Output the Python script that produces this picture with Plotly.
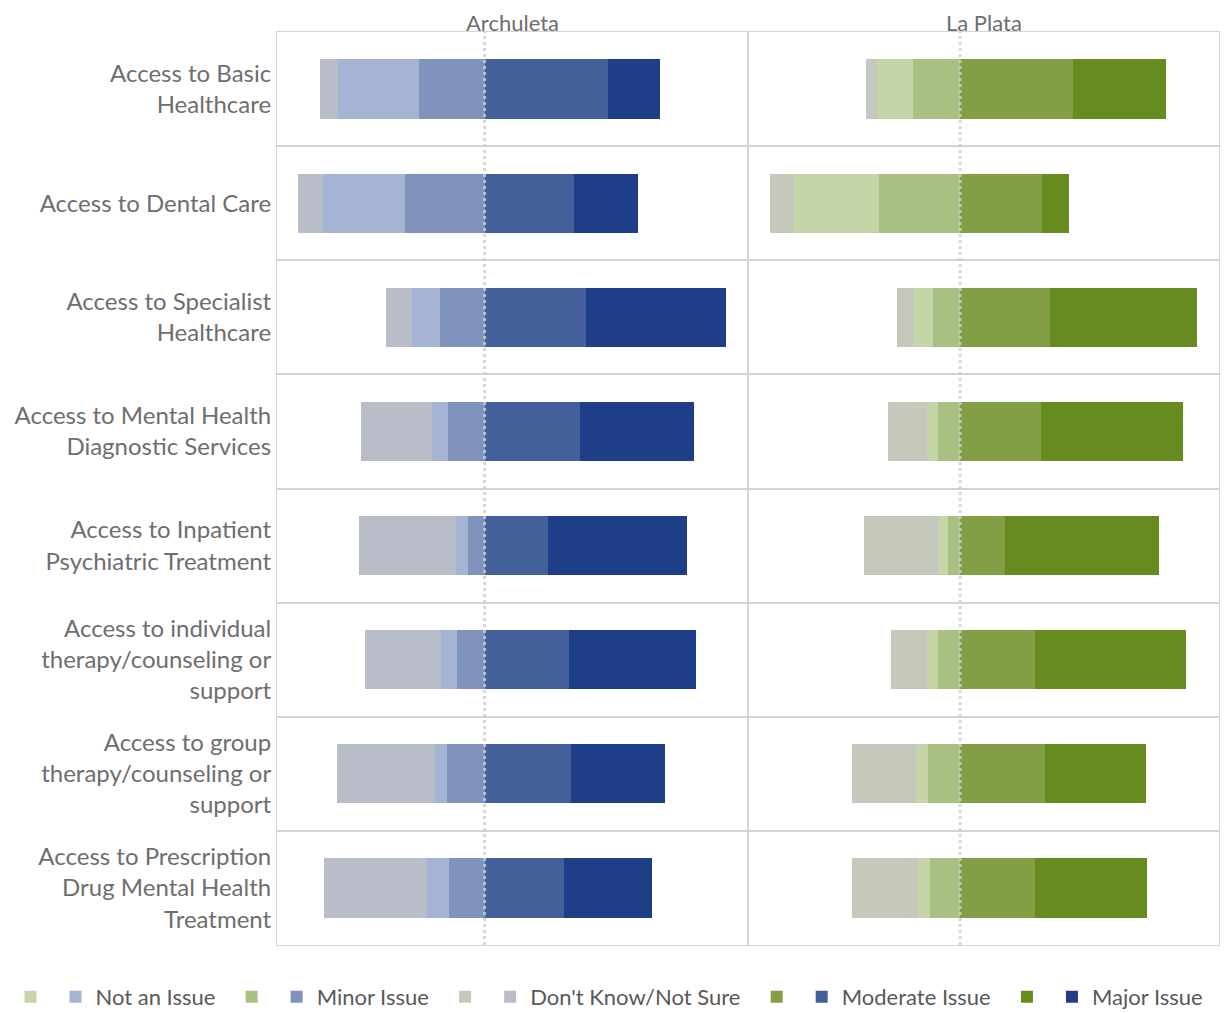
import plotly.graph_objects as go

categories = [
    "Access to Basic<br>Healthcare",
    "Access to Dental Care",
    "Access to Specialist<br>Healthcare",
    "Access to Mental Health<br>Diagnostic Services",
    "Access to Inpatient<br>Psychiatric Treatment",
    "Access to individual<br>therapy/counseling or<br>support",
    "Access to group<br>therapy/counseling or<br>support",
    "Access to Prescription<br>Drug Mental Health<br>Treatment",
]
panels = ["Archuleta", "La Plata"]
levels = ["Not an Issue", "Minor Issue", "Don't Know/Not Sure", "Moderate Issue", "Major Issue"]

# Archuleta percentages
arch_not = [23.8, 24.3, 8.2, 4.7, 3.5, 4.7, 3.5, 6.6]
arch_minor = [19.4, 23.3, 13.1, 10.8, 4.9, 8.0, 11.1, 10.4]
arch_dk = [5.1, 7.2, 7.8, 20.7, 28.5, 22.3, 28.8, 30.1]
arch_mod = [36.2, 26.3, 29.8, 27.9, 18.5, 24.7, 25.5, 23.2]
arch_major = [15.4, 18.7, 41.0, 33.5, 41.0, 37.4, 27.4, 26.1]

# La Plata percentages
lp_not = [12.0, 28.1, 6.4, 3.7, 2.7, 3.7, 4.0, 4.2]
lp_minor = [15.7, 27.2, 9.0, 7.3, 4.2, 7.3, 10.8, 9.9]
lp_dk = [3.6, 8.2, 5.6, 13.1, 25.2, 12.2, 21.3, 22.0]
lp_mod = [37.6, 27.3, 30.0, 26.9, 15.0, 25.1, 28.2, 25.1]
lp_major = [31.0, 9.1, 48.8, 47.4, 51.3, 50.1, 33.7, 37.2]

blue = {"Not an Issue": "#a5b4d3", "Minor Issue": "#7f93bd", "Don't Know/Not Sure": "#b9bdc7",
        "Moderate Issue": "#43609b", "Major Issue": "#1e3f87"}
green = {"Not an Issue": "#c6d5a8", "Minor Issue": "#a9c083", "Don't Know/Not Sure": "#c5c9bb",
         "Moderate Issue": "#829f45", "Major Issue": "#668b1e"}

FONT = "Lato"
TXT = "#6e6e6e"
ypos = list(range(len(categories)))

# page has an 8px body margin; figure fills the rest of the window
OFF = 8
W, H = 1228 - OFF, 1013 - OFF
def px(x):
    return (x - OFF) / W
def py(y):
    return 1 - (y - OFF) / H

fig = go.Figure()

def add_panel(data, colors, xa, ya, legend_named):
    order = [("Minor Issue", -1), ("Not an Issue", -1), ("Don't Know/Not Sure", -1),
             ("Moderate Issue", 1), ("Major Issue", 1)]
    for lvl, sign in order:
        vals = data[lvl]
        rank = levels.index(lvl) * 2 + (2 if legend_named else 1)
        fig.add_trace(go.Bar(
            x=[sign * v for v in vals], y=ypos, orientation="h",
            marker=dict(color=colors[lvl], line=dict(width=0)),
            width=0.52, xaxis=xa, yaxis=ya,
            name=(lvl + "\u00a0\u00a0") if legend_named else "",
            legendrank=rank, showlegend=True,
            hovertemplate=lvl + ": %{customdata}%<extra></extra>",
            customdata=vals,
        ))

add_panel({"Not an Issue": arch_not, "Minor Issue": arch_minor, "Don't Know/Not Sure": arch_dk,
           "Moderate Issue": arch_mod, "Major Issue": arch_major}, blue, "x", "y", True)
add_panel({"Not an Issue": lp_not, "Minor Issue": lp_minor, "Don't Know/Not Sure": lp_dk,
           "Moderate Issue": lp_mod, "Major Issue": lp_major}, green, "x2", "y2", False)

x1_dom = [px(277), px(748)]
x2_dom = [px(748), px(1219)]
y_dom = [py(945), py(32)]
grid = "#d3d3d3"

common_x = dict(showgrid=False, zeroline=False, showticklabels=False, ticks="",
                showline=True, mirror=True, linecolor=grid, linewidth=1, fixedrange=True)
common_y = dict(range=[7.5, -0.5], tickvals=ypos, showgrid=False, zeroline=False,
                showline=True, mirror=True, linecolor=grid, linewidth=1,
                minor=dict(tick0=0.5, dtick=1, showgrid=True, gridcolor=grid, gridwidth=1.5, ticks=""),
                ticks="", fixedrange=True)

fig.update_layout(
    width=W, height=H,
    margin=dict(l=0, r=0, t=0, b=0, autoexpand=False),
    paper_bgcolor="white", plot_bgcolor="white",
    barmode="relative", bargap=0,
    font=dict(family=FONT, color=TXT, size=22),
    xaxis=dict(domain=x1_dom, range=[-61.0, 77.4], anchor="y", **common_x),
    xaxis2=dict(domain=x2_dom, range=[-70.7, 86.3], anchor="y2", **common_x),
    yaxis=dict(domain=y_dom, anchor="x", ticktext=categories, automargin=False,
               tickfont=dict(family=FONT, size=24, color=TXT), **common_y),
    yaxis2=dict(domain=y_dom, anchor="x2", matches="y", showticklabels=False, **common_y),
    legend=dict(orientation="h", x=px(615), xanchor="center", y=py(997), yanchor="middle",
                font=dict(family=FONT, size=22, color="#595959"), itemwidth=30,
                traceorder="normal", bgcolor="rgba(0,0,0,0)"),
    showlegend=True,
)

for xr in ("x", "x2"):
    fig.add_shape(type="line", xref=xr, yref="paper", x0=0, x1=0, y0=y_dom[0], y1=y_dom[1],
                  line=dict(color="rgba(205,205,205,0.8)", width=3, dash="dot"), layer="above")

for name, dom in zip(panels, (x1_dom, x2_dom)):
    fig.add_annotation(text=name, xref="paper", yref="paper", x=(dom[0] + dom[1]) / 2,
                       y=1, xanchor="center", yanchor="top", showarrow=False, borderpad=0,
                       font=dict(family=FONT, size=22, color=TXT))

fig.write_html("out.html")
